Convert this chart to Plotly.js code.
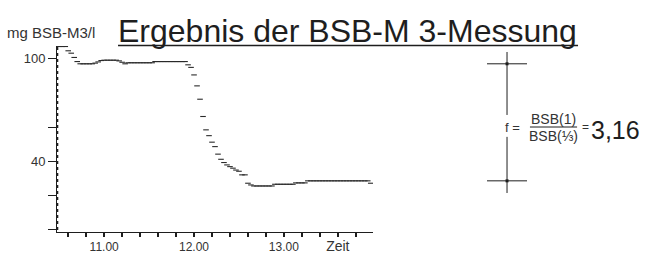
<!DOCTYPE html>
<html>
<head>
<meta charset="utf-8">
<script src="https://cdn.plot.ly/plotly-3.0.1.min.js"></script>
<style>html,body{margin:0;padding:0;background:#fff;}#chart{width:646px;height:253px;}</style>
</head>
<body>
<div id="chart"></div>
<script>
// Time in minutes after 10.00 h, BSB-M3 reading in mg/l
const times = [30,32,34,36,38,40,42,44,46,48,50,52,54,56,58,60,62,64,66,68,70,72,74,76,78,80,82,84,86,88,90,92,94,96,98,100,102,104,106,108,110,112,114,116,118,120,122,124,126,128,130,132,134,136,138,140,142,144,146,148,150,152,154,156,158,160,162,164,166,168,170,172,174,176,178,180,182,184,186,188,190,192,194,196,198,200,202,204,206,208,210,212,214,216,218,220,222,224,226,228,230,232,234,236,238];
const bsb = [107.2,107.2,107.2,104.7,103.3,100.8,98.4,97.1,97.1,97.1,97.1,97.1,97.5,98.2,99.0,99.2,99.2,99.2,99.2,99.2,98.8,98.0,97.1,97.7,97.7,97.7,97.7,97.7,97.7,97.7,97.7,97.7,98.4,98.4,98.4,98.4,98.4,98.4,98.4,98.4,98.4,98.4,98.4,96.5,95.0,90.6,84.2,76.4,66.3,58.5,55.1,51.3,48.7,44.3,41.3,39.4,38.0,37.0,36.1,35.0,34.3,32.2,32.2,27.3,26.3,25.7,25.7,25.7,25.7,25.7,25.7,25.7,26.7,26.7,26.7,26.7,26.7,26.7,26.7,27.5,27.5,27.5,27.5,28.7,28.7,28.7,28.7,28.7,28.7,28.7,28.7,28.7,28.7,28.7,28.7,28.7,28.7,28.7,28.7,28.7,28.7,28.7,28.7,28.7,27.3];
// pen rise at the start of the recording
const startTimes = [28.7, 28.7];
const startLevels = [0, 107.2];
// levels marked on the right-hand scale: BSB(1) and BSB(1/3)
const refLevels = [97.1, 28.7];
const factorLabel = '3,16';

const xTickVals = [36,48,60,72,84,96,108,120,132,144,156,168,180,192,204,216,228];
const xTickText = ['','','11.00','','','','','12.00','','','','','13.00','','','<span style="font-size:14px">Zeit</span>',''];
const yTickVals = [0,20,40,60,100];
const yTickText = ['','','40','','100'];

const ink = '#1e1e1e';
const FONT = '"Liberation Sans", Arial, sans-serif';

const traces = [
  {x: startTimes, y: startLevels, mode: 'lines', line: {color: ink, width: 2, dash: 'dot'}, xaxis: 'x', yaxis: 'y', hoverinfo: 'skip'},
  {x: times, y: bsb, mode: 'markers', marker: {symbol: 'line-ew', size: 4, line: {color: '#2a2a2a', width: 1.1}}, xaxis: 'x', yaxis: 'y'},
  {x: refLevels.map(() => 0), y: refLevels, mode: 'markers', marker: {symbol: 'square', size: 3, color: ink}, xaxis: 'x2', yaxis: 'y'}
];

const shapes = [
  // title underline
  {type: 'line', xref: 'paper', yref: 'paper', x0: 0.1036, x1: 0.8846, y0: 1.0027, y1: 1.0027, line: {color: ink, width: 1.3}},
  // right scale: vertical line (interrupted by the formula)
  {type: 'line', xref: 'x2', yref: 'y', x0: 0, x1: 0, y0: 104.0, y1: 67.2, line: {color: ink, width: 1}},
  {type: 'line', xref: 'x2', yref: 'y', x0: 0, x1: 0, y0: 54.4, y1: 21.6, line: {color: ink, width: 1}},
  // fraction bar
  {type: 'line', xref: 'paper', yref: 'paper', x0: 0.803, x1: 0.883, y0: 0.5645, y1: 0.5645, line: {color: ink, width: 1}}
];
refLevels.forEach(v => shapes.push({type: 'line', xref: 'x2', yref: 'y', x0: -1, x1: 1, y0: v, y1: v, line: {color: ink, width: 1}}));

const annotations = [
  {text: 'Ergebnis der BSB-M 3-Messung', xref: 'paper', yref: 'paper', x: 0.494, y: 1.0806, xanchor: 'center', yanchor: 'middle', showarrow: false, font: {family: FONT, size: 32, color: ink}},
  {text: 'mg BSB-M3/l', xref: 'paper', yref: 'paper', x: -0.0883, y: 1.070, xanchor: 'left', yanchor: 'middle', showarrow: false, font: {family: FONT, size: 15, color: '#333'}},
  {text: 'f =', xref: 'paper', yref: 'paper', x: 0.7725, y: 0.5645, xanchor: 'center', yanchor: 'middle', showarrow: false, font: {family: FONT, size: 13, color: '#333'}},
  {text: 'BSB(1)', xref: 'paper', yref: 'paper', x: 0.8433, y: 0.607, xanchor: 'center', yanchor: 'middle', showarrow: false, font: {family: FONT, size: 14, color: '#333'}},
  {text: 'BSB(⅓)', xref: 'paper', yref: 'paper', x: 0.8433, y: 0.518, xanchor: 'center', yanchor: 'middle', showarrow: false, font: {family: FONT, size: 14, color: '#333'}},
  {text: '=', xref: 'paper', yref: 'paper', x: 0.897, y: 0.5645, xanchor: 'center', yanchor: 'middle', showarrow: false, font: {family: FONT, size: 12, color: '#333'}},
  {text: factorLabel, xref: 'paper', yref: 'paper', x: 0.9932, y: 0.548, xanchor: 'right', yanchor: 'middle', showarrow: false, font: {family: FONT, size: 25, color: ink}}
];

const layout = {
  width: 646, height: 253,
  margin: {l: 57, r: 0, t: 46, b: 21, pad: 0},
  paper_bgcolor: '#fff', plot_bgcolor: '#fff',
  showlegend: false,
  font: {family: FONT, color: '#333'},
  xaxis: {domain: [0, 0.5365], range: [28.5, 239.5], showgrid: false, zeroline: false, showline: true, linecolor: ink, linewidth: 1,
          ticks: 'outside', ticklen: 4, tickwidth: 2, tickcolor: ink, tickmode: 'array', tickvals: xTickVals, ticktext: xTickText,
          tickfont: {family: FONT, size: 12, color: '#333'}, fixedrange: true},
  xaxis2: {domain: [0.7301, 0.798], range: [-1, 1], anchor: 'y', visible: false, fixedrange: true},
  yaxis: {range: [-1.2, 107.5], showgrid: false, zeroline: false, showline: true, linecolor: ink, linewidth: 1,
          ticks: 'outside', ticklen: 8, tickwidth: 1, tickcolor: ink, tickmode: 'array', tickvals: yTickVals, ticktext: yTickText,
          tickfont: {family: FONT, size: 13, color: '#333'}, fixedrange: true},
  shapes: shapes,
  annotations: annotations
};

Plotly.newPlot('chart', traces, layout, {displayModeBar: false, staticPlot: true});
</script>
</body>
</html>
